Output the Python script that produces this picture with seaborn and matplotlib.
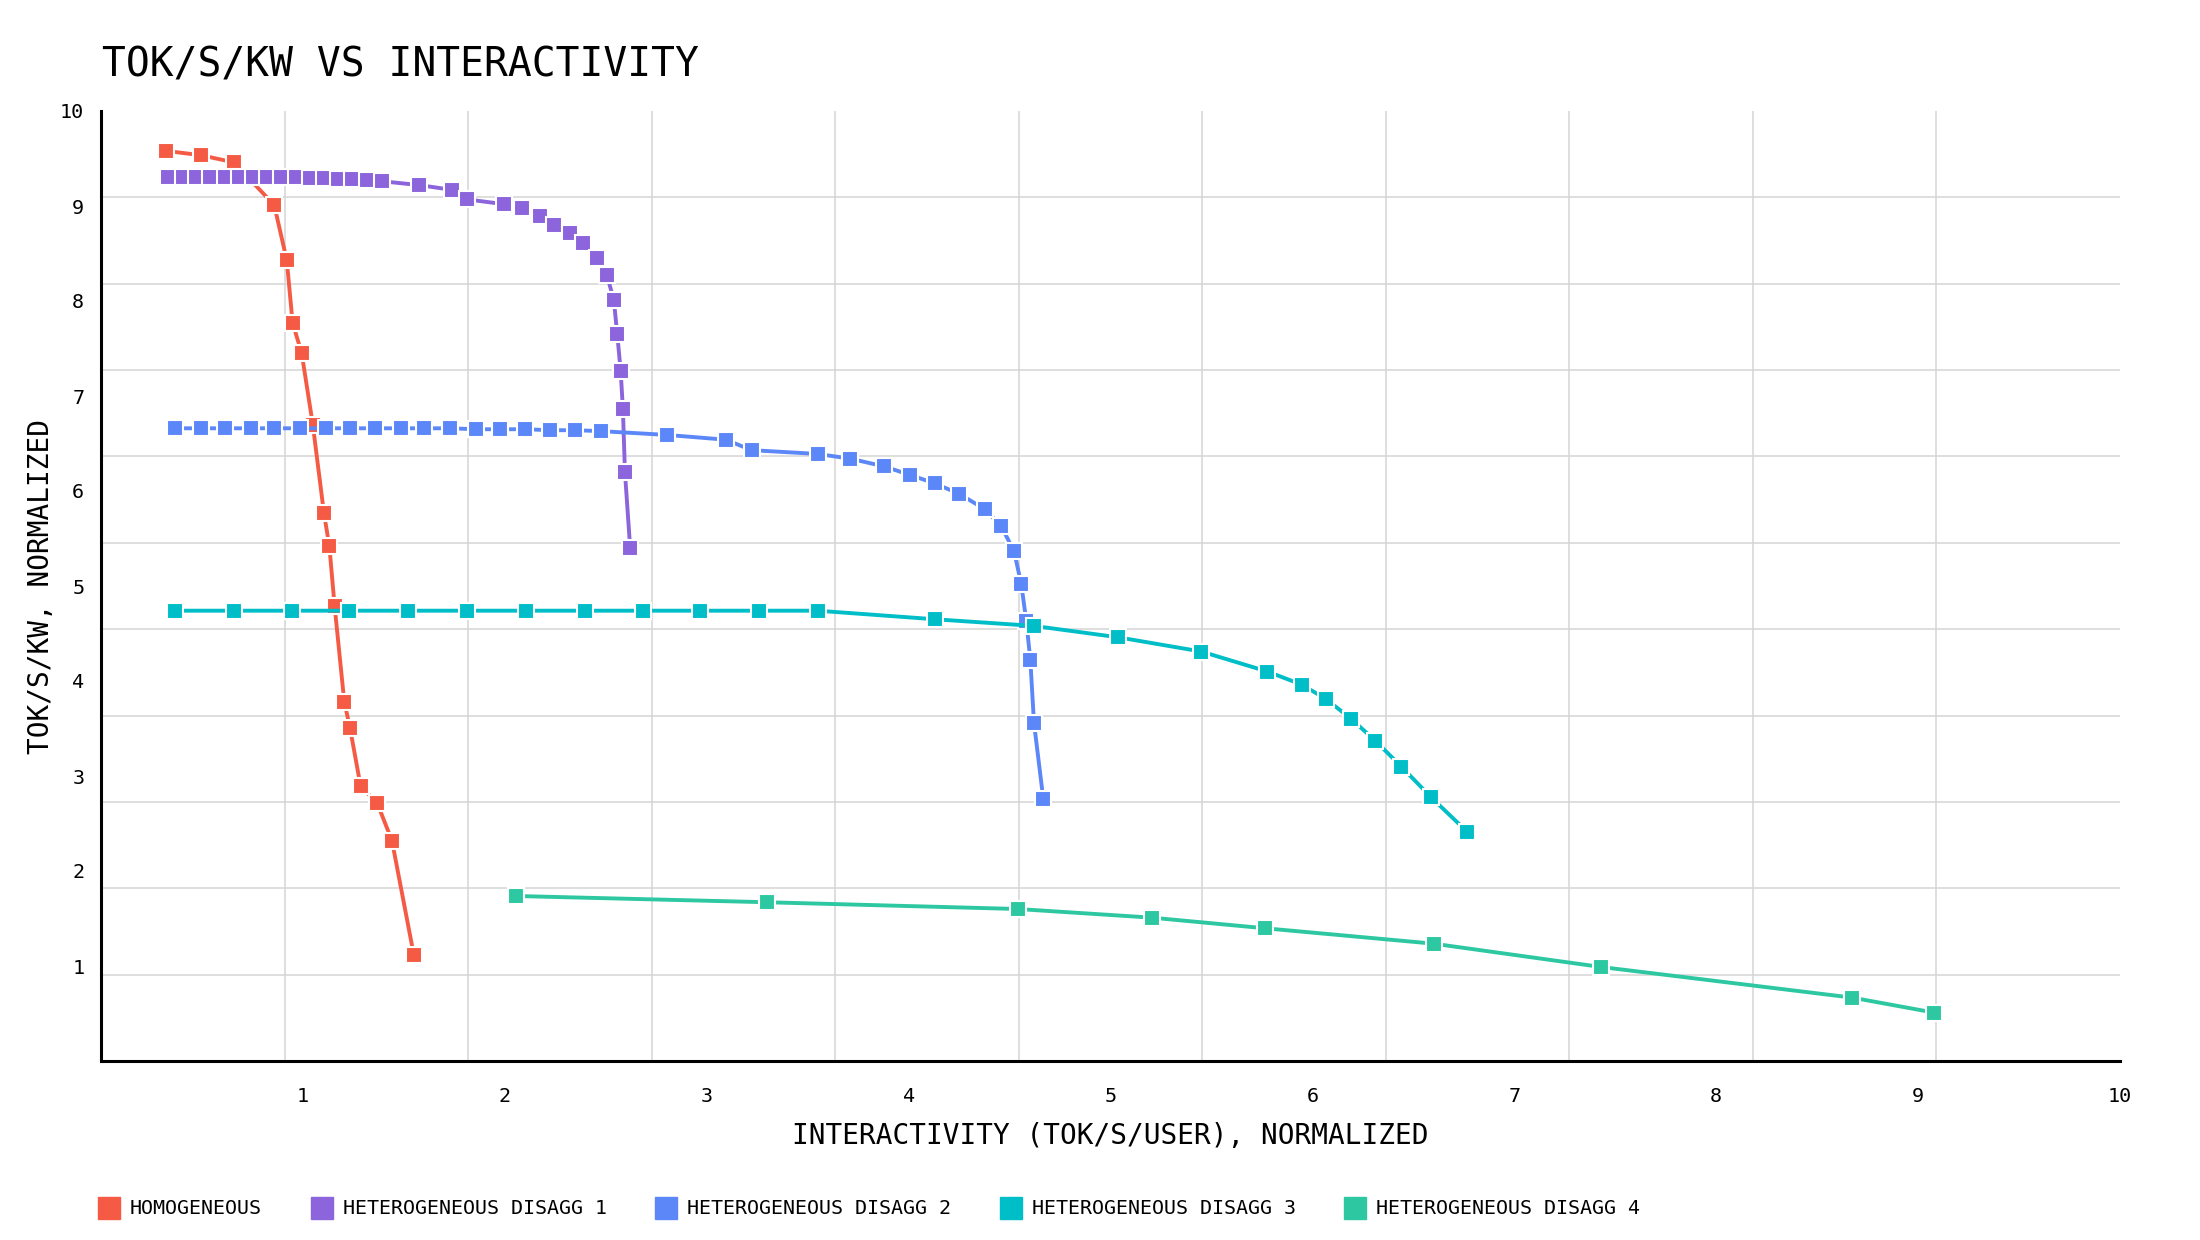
import matplotlib
matplotlib.use("Agg")
import matplotlib.pyplot as plt
from matplotlib.lines import Line2D
import numpy as np
import pandas as pd
import seaborn as sns

# Werte (normalisiert)
red_x = [0.322, 0.494, 0.657, 0.858, 0.920, 0.949, 0.994, 1.049, 1.104, 1.131, 1.157,
         1.205, 1.233, 1.286, 1.367, 1.441, 1.549]
red_y = [9.58, 9.535, 9.46, 9.01, 8.43, 7.77, 7.45, 6.70, 5.77, 5.42, 4.79,
         3.78, 3.51, 2.89, 2.72, 2.32, 1.12]

purple_x = [0.333, 0.405, 0.472, 0.542, 0.616, 0.684, 0.754, 0.824, 0.892, 0.964, 1.034,
            1.104, 1.176, 1.242, 1.316, 1.394, 1.576, 1.739, 1.811, 1.994, 2.085, 2.174,
            2.246, 2.322, 2.386, 2.458, 2.506, 2.540, 2.557, 2.574, 2.585, 2.595, 2.621]
purple_y = [9.30, 9.30, 9.30, 9.30, 9.30, 9.30, 9.30, 9.30, 9.30, 9.30, 9.29,
            9.29, 9.28, 9.28, 9.27, 9.26, 9.22, 9.17, 9.07, 9.02, 8.98, 8.90,
            8.80, 8.72, 8.61, 8.45, 8.27, 8.01, 7.65, 7.26, 6.86, 6.20, 5.40]

blue_x = [0.367, 0.494, 0.612, 0.741, 0.858, 0.985, 1.114, 1.231, 1.356, 1.485, 1.602,
          1.729, 1.858, 1.975, 2.102, 2.223, 2.350, 2.477, 2.805, 3.095, 3.222, 3.550,
          3.712, 3.877, 4.006, 4.130, 4.250, 4.377, 4.458, 4.522, 4.558, 4.583, 4.603,
          4.621, 4.667]
blue_y = [6.66, 6.66, 6.66, 6.66, 6.66, 6.66, 6.66, 6.66, 6.66, 6.66, 6.66,
          6.66, 6.65, 6.65, 6.65, 6.64, 6.64, 6.63, 6.59, 6.54, 6.43, 6.39,
          6.34, 6.26, 6.17, 6.08, 5.97, 5.81, 5.63, 5.37, 5.02, 4.63, 4.22,
          3.56, 2.76]

cyan_x = [0.368, 0.660, 0.945, 1.230, 1.522, 1.814, 2.106, 2.397, 2.686, 2.968, 3.258,
          3.550, 4.129, 4.620, 5.038, 5.450, 5.777, 5.949, 6.067, 6.193, 6.312, 6.440,
          6.586, 6.768]
cyan_y = [4.74, 4.74, 4.74, 4.74, 4.74, 4.74, 4.74, 4.74, 4.74, 4.74, 4.74,
          4.74, 4.65, 4.58, 4.46, 4.31, 4.10, 3.96, 3.81, 3.60, 3.37, 3.10,
          2.78, 2.41]

green_x = [2.055, 3.300, 4.540, 5.204, 5.766, 6.600, 7.428, 8.674, 9.080]
green_y = [1.737, 1.671, 1.600, 1.509, 1.397, 1.235, 0.990, 0.667, 0.509]

series = ["HOMOGENEOUS", "HETEROGENEOUS DISAGG 1", "HETEROGENEOUS DISAGG 2",
          "HETEROGENEOUS DISAGG 3", "HETEROGENEOUS DISAGG 4"]
colors = ["#F55B44", "#8C64DB", "#5C87F8", "#00BEC8", "#2DC8A1"]
tick_labels = [str(i) for i in range(1, 11)]


def build_frame():
    parts = []
    for name, xs, ys in zip(series, [red_x, purple_x, blue_x, cyan_x, green_x],
                            [red_y, purple_y, blue_y, cyan_y, green_y]):
        parts.append(pd.DataFrame({"x": xs, "y": ys, "series": name}))
    return pd.concat(parts, ignore_index=True)


if __name__ == "__main__":
    sns.set_style("white")
    plt.rcParams["font.family"] = ["DejaVu Sans Mono", "DejaVu Sans"]
    plt.rcParams["text.color"] = "black"
    plt.rcParams["axes.labelcolor"] = "black"
    plt.rcParams["xtick.color"] = "black"
    plt.rcParams["ytick.color"] = "black"

    df = build_frame()
    fig = plt.figure(figsize=(22, 12.4), dpi=100)
    ax = fig.add_axes([101 / 2200, 1 - 1061 / 1240, 2019 / 2200, 950 / 1240])

    sns.lineplot(data=df, x="x", y="y", hue="series", hue_order=series,
                 palette=dict(zip(series, colors)), sort=False, estimator=None,
                 marker="s", markersize=12, markeredgecolor="white",
                 markeredgewidth=1.5, linewidth=2.8, legend=False, ax=ax)

    ax.set_xlim(0, 10)
    ax.set_ylim(0, 10)
    # Gitter mit 11 Feldern, Beschriftung 1..10
    ax.set_xticks(np.linspace(0, 10, 12), minor=True)
    ax.set_yticks(np.linspace(0, 10, 12), minor=True)
    ax.set_xticks(range(1, 11), tick_labels)
    ax.set_yticks(range(1, 11), tick_labels)
    ax.grid(False, which="major")
    ax.grid(True, which="minor", color="#d4d4d4", linewidth=1.1)
    ax.tick_params(which="both", length=0)
    ax.tick_params(axis="x", which="major", pad=19, labelsize=14.5)
    ax.tick_params(axis="y", which="major", pad=12, labelsize=14.5)

    for side in ["top", "right"]:
        ax.spines[side].set_visible(False)
    for side in ["left", "bottom"]:
        ax.spines[side].set_color("black")
        ax.spines[side].set_linewidth(2.2)
    ax.set_axisbelow(True)

    ax.set_xlabel("INTERACTIVITY (TOK/S/USER), NORMALIZED", fontsize=20, labelpad=11)
    ax.set_ylabel("TOK/S/KW, NORMALIZED", fontsize=20, labelpad=4)
    fig.text(102 / 2200, 1 - 46 / 1240, "TOK/S/KW VS INTERACTIVITY", fontsize=28.5,
             va="top", ha="left")

    handles = [Line2D([], [], marker="s", linestyle="", markersize=16, color=c)
               for c in colors]
    fig.legend(handles, series, loc="center left", bbox_to_anchor=(99 / 2200, 1 - 1209 / 1240),
               ncol=5, frameon=False, fontsize=14.4, handlelength=1.0, handletextpad=0.55,
               columnspacing=2.48, borderpad=0, borderaxespad=0)

    fig.savefig("out.png", dpi=100)
